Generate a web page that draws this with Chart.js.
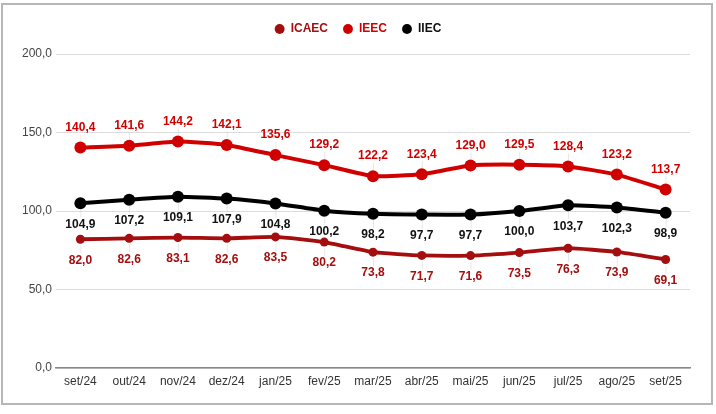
<!DOCTYPE html>
<html>
<head>
<meta charset="utf-8">
<script src="https://cdn.jsdelivr.net/npm/chart.js@4.4.1/dist/chart.umd.min.js"></script>
<style>
  html, body { margin: 0; padding: 0; background: #fff; }
  #wrap { position: relative; width: 716px; height: 414px; }
  #frame { position: absolute; left: 1px; top: 3px; width: 708px; height: 398px; border: 2px solid #b7b7b7; pointer-events: none; }
  canvas { position: absolute; left: 0; top: 0; }
</style>
</head>
<body>
<div id="wrap">
  <canvas id="c" width="716" height="414"></canvas>
  <div id="frame"></div>
</div>
<script>
const categories = ['set/24','out/24','nov/24','dez/24','jan/25','fev/25','mar/25','abr/25','mai/25','jun/25','jul/25','ago/25','set/25'];
const icaec = [82.0, 82.6, 83.1, 82.6, 83.5, 80.2, 73.8, 71.7, 71.6, 73.5, 76.3, 73.9, 69.1];
const ieec  = [140.4, 141.6, 144.2, 142.1, 135.6, 129.2, 122.2, 123.4, 129.0, 129.5, 128.4, 123.2, 113.7];
const iiec  = [104.9, 107.2, 109.1, 107.9, 104.8, 100.2, 98.2, 97.7, 97.7, 100.0, 103.7, 102.3, 98.9];
const yTicks = [0, 50, 100, 150, 200];

const FONT = "'Liberation Sans', Arial, sans-serif";
const fmt = v => v.toFixed(1).replace('.', ',');

const legendGap = {
  id: 'legendGap',
  beforeInit(chart) {
    const lg = chart.legend;
    if (!lg) return;
    const origFit = lg.fit;
    lg.fit = function () { origFit.call(this); this.height += 9; };
    const origDraw = lg.draw;
    lg.draw = function () {
      const ctx = this.ctx;
      ctx.save();
      ctx.translate(3, 0);
      origDraw.call(this);
      ctx.restore();
    };
  }
};

const labelPlugin = {
  id: 'pointLabels',
  afterDatasetsDraw(chart) {
    const ctx = chart.ctx;
    ctx.save();
    ctx.font = "bold 12px " + FONT;
    ctx.textAlign = 'center';
    ctx.textBaseline = 'middle';
    chart.data.datasets.forEach((ds, i) => {
      const meta = chart.getDatasetMeta(i);
      const pos = ds.labelPos;
      meta.data.forEach((pt, j) => {
        const x = pt.x, y = pt.y;
        const ly = pos === 'above' ? y - 20 : y + 21;
        ctx.strokeStyle = 'rgba(200,200,200,0.45)';
        ctx.lineWidth = 1;
        ctx.beginPath();
        if (pos === 'above') { ctx.moveTo(x + 0.5, y - 6); ctx.lineTo(x + 0.5, ly + 7); }
        else { ctx.moveTo(x + 0.5, y + 6); ctx.lineTo(x + 0.5, ly - 7); }
        ctx.stroke();
        ctx.fillStyle = ds.labelColor;
        ctx.fillText(fmt(ds.data[j]), x, ly);
      });
    });
    ctx.restore();
  }
};

new Chart(document.getElementById('c'), {
  type: 'line',
  data: {
    labels: categories,
    datasets: [
      { label: 'ICAEC', data: icaec, borderColor: '#a40e0e', backgroundColor: '#a40e0e', labelColor: '#a40e0e', labelPos: 'below',
        borderWidth: 3.8, pointRadius: 4.5, pointBorderWidth: 0, pointHoverRadius: 4.5, tension: 0.15, order: 3 },
      { label: 'IEEC', data: ieec, borderColor: '#d00000', backgroundColor: '#d00000', labelColor: '#d00000', labelPos: 'above',
        borderWidth: 4, pointRadius: 6, pointBorderWidth: 0, pointHoverRadius: 6, tension: 0.15, order: 2 },
      { label: 'IIEC', data: iiec, borderColor: '#000000', backgroundColor: '#000000', labelColor: '#111111', labelPos: 'below',
        borderWidth: 4, pointRadius: 6, pointBorderWidth: 0, pointHoverRadius: 6, tension: 0.15, order: 1 }
    ]
  },
  options: {
    responsive: false,
    animation: false,
    events: [],
    layout: { padding: { top: 8, left: 20, right: 26, bottom: 0 } },
    plugins: {
      tooltip: { enabled: false },
      legend: {
        position: 'top',
        labels: {
          usePointStyle: true,
          pointStyle: 'circle',
          boxWidth: 10,
          boxHeight: 7,
          padding: 15,
          font: { family: FONT, size: 12, weight: 'bold' },
          generateLabels(chart) {
            return chart.data.datasets.map((ds, i) => ({
              text: ds.label,
              fillStyle: ds.borderColor,
              strokeStyle: ds.borderColor,
              lineWidth: 0,
              fontColor: ds.labelColor,
              pointStyle: 'circle',
              hidden: false,
              datasetIndex: i
            }));
          }
        }
      }
    },
    scales: {
      x: {
        offset: true,
        grid: { display: false, drawTicks: false },
        border: { display: true, color: '#888', width: 1.5 },
        ticks: { color: '#333', font: { family: FONT, size: 12 }, padding: 6, maxRotation: 0, autoSkip: false },
        afterFit(scale) { scale.height = 46; }
      },
      y: {
        min: 0, max: 200,
        afterBuildTicks(scale) { scale.ticks = yTicks.map(v => ({ value: v })); },
        grid: { color: '#dcdcdc', lineWidth: 1, drawTicks: false },
        border: { display: false },
        ticks: { color: '#444', font: { family: FONT, size: 12 }, padding: 4, callback: v => fmt(v) },
        afterFit(scale) { scale.width = 36; }
      }
    }
  },
  plugins: [legendGap, labelPlugin]
});
</script>
</body>
</html>
